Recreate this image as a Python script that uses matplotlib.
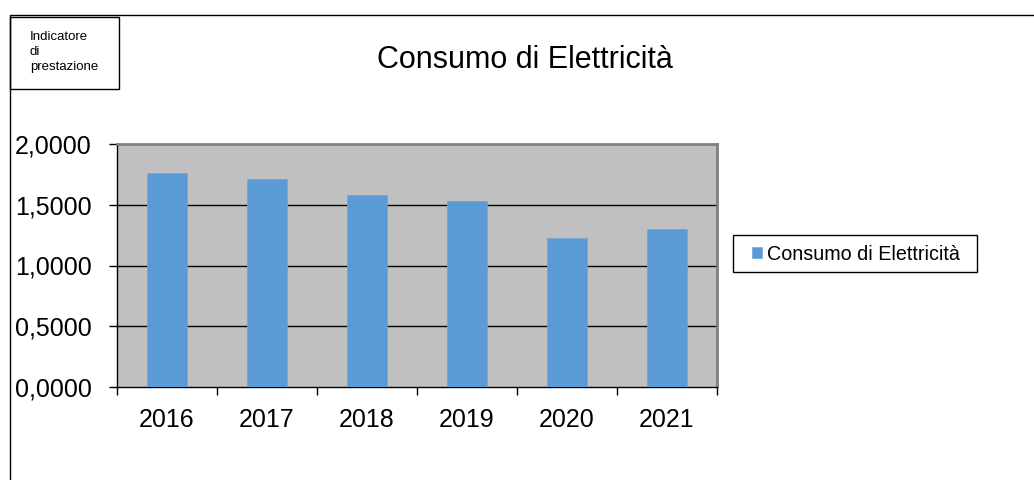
import matplotlib
matplotlib.use("Agg")
import matplotlib.pyplot as plt
from matplotlib.patches import Rectangle
import numpy as np

plt.rcParams['font.family'] = ['Liberation Sans', 'DejaVu Sans']

years = ['2016', '2017', '2018', '2019', '2020', '2021']
values = [1.76, 1.71, 1.58, 1.53, 1.23, 1.30]
yticks = [0.0, 0.5, 1.0, 1.5, 2.0]
ytick_labels = ['0,0000', '0,5000', '1,0000', '1,5000', '2,0000']
series_name = 'Consumo di Elettricità'
title = 'Consumo di Elettricità'
box_text = 'Indicatore\ndi\nprestazione'

W, H = 1034, 480
fig = plt.figure(figsize=(W / 100, H / 100), dpi=100)

# outer chart border (top and left visible)
fig.patches.append(Rectangle((10 / W, -0.1), 1.2, 1 - 15 / H + 0.1, transform=fig.transFigure,
                             fill=False, edgecolor='black', linewidth=1.0))
# indicator box
fig.patches.append(Rectangle((10 / W, 1 - 89 / H), 109 / W, 72 / H, transform=fig.transFigure,
                             fill=False, edgecolor='black', linewidth=1.0))
fig.text(30 / W, 1 - 31 / H, box_text, fontsize=9.5, va='top', ha='left', linespacing=1.32)

fig.text(525 / W, 1 - 68 / H, title, fontsize=22, ha='center', va='baseline')

ax = fig.add_axes([117 / W, 1 - 387 / H, 600 / W, 243 / H])
ax.set_facecolor('#c0c0c0')
x = np.arange(len(years))
bars = ax.bar(x, values, width=0.4, color='#5b9bd5', edgecolor='#6fa6d8', linewidth=0.5,
              label=series_name, zorder=3)
ax.set_xlim(-0.5, len(years) - 0.5)
ax.set_ylim(0, 2.0)
ax.set_yticks(yticks)
ax.set_yticklabels(ytick_labels, fontsize=18)
for yv in yticks[1:-1]:
    ax.axhline(yv, color='black', linewidth=1.0, zorder=2)

ax.set_xticks(x)
ax.set_xticklabels(years, fontsize=18)
ax.tick_params(axis='x', length=0, pad=15)
ax.set_xticks(np.arange(-0.5, len(years), 1.0), minor=True)
ax.tick_params(axis='x', which='minor', length=6, width=1, color='black', direction='out')
ax.tick_params(axis='y', length=6, width=1, color='black', direction='out', pad=12)

for side in ['top', 'right']:
    ax.spines[side].set_color('#808080')
    ax.spines[side].set_linewidth(2)
ax.spines['left'].set_color('black')
ax.spines['left'].set_linewidth(1)
ax.spines['bottom'].set_color('black')
ax.spines['bottom'].set_linewidth(1)

# legend: frame drawn separately, entries via matplotlib legend
fig.patches.append(Rectangle((733 / W, 1 - 272 / H), 244 / W, 37 / H, transform=fig.transFigure,
                             fill=False, edgecolor='black', linewidth=1.0))
leg = fig.legend(handles=[bars], labels=[series_name], loc='center left',
                 bbox_to_anchor=(752 / W, 1 - 254 / H), fontsize=14.2,
                 frameon=False, handlelength=0.51, handleheight=0.51,
                 handletextpad=0.25, borderpad=0, borderaxespad=0)

fig.savefig('out.png', dpi=100)
